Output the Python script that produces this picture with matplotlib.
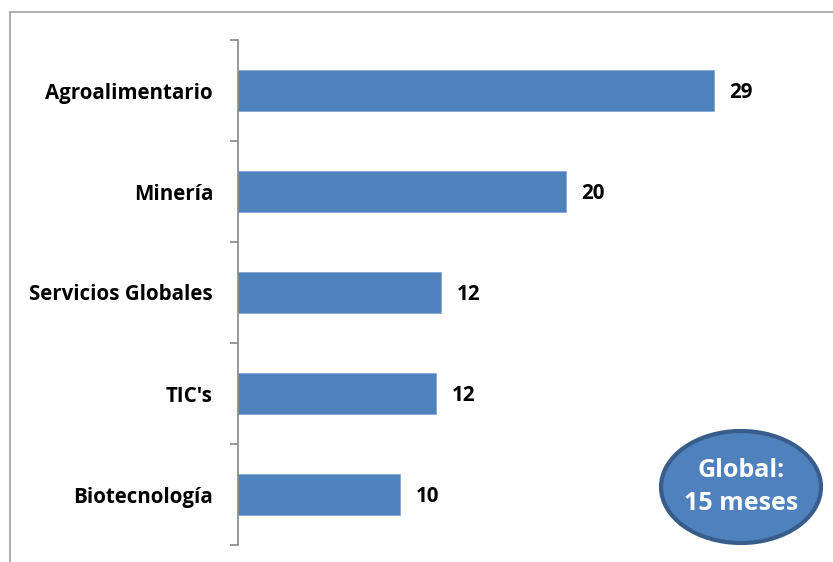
import matplotlib.pyplot as plt
from matplotlib.patches import Ellipse
from matplotlib.lines import Line2D

# Datos (meses por sector)
categorias = ["Agroalimentario", "Minería", "Servicios Globales", "TIC's", "Biotecnología"]
valores = [29.0, 20.0, 12.4, 12.1, 9.9]
etiquetas = ["29", "20", "12", "12", "10"]
texto_global = "Global:\n15 meses"

plt.rcParams['font.family'] = ['Open Sans', 'DejaVu Sans']

fig = plt.figure(figsize=(8.33, 5.62), dpi=100)
ax = fig.add_axes([238 / 833, 1 - 545 / 562, 574 / 833, 505 / 562])

pos = list(range(len(categorias)))
ax.barh(pos, valores, height=0.4, color='#4F81BD', edgecolor='#7FA3D0', linewidth=0.5)
ax.set_ylim(len(categorias) - 0.5, -0.5)
ax.set_xlim(0, 35)

for p, v, t in zip(pos, valores, etiquetas):
    ax.text(v + 0.95, p + 0.02, t, va='center', ha='left', fontsize=14.8, fontweight='bold')

# Eje vertical con marcas entre categorías
ax.set_yticks(pos)
ax.set_yticklabels(categorias, fontsize=14.8, fontweight='bold')
ax.tick_params(axis='y', which='major', length=0, pad=18)
ax.set_yticks([p - 0.5 for p in pos] + [len(pos) - 0.5], minor=True)
ax.tick_params(axis='y', which='minor', length=6, width=1.2, color='#868686')
ax.set_xticks([])
for s in ['top', 'right', 'bottom']:
    ax.spines[s].set_visible(False)
ax.spines['left'].set_color('#868686')
ax.spines['left'].set_linewidth(1.2)

# Marco del gráfico
fig.add_artist(Line2D([10 / 833, 10 / 833], [0, 1 - 12 / 562], color='#A0A0A0', lw=1.2,
                      transform=fig.transFigure))
fig.add_artist(Line2D([10 / 833, 1], [1 - 12 / 562, 1 - 12 / 562], color='#A0A0A0', lw=1.2,
                      transform=fig.transFigure))

# Óvalo con el promedio global
cx, cy = 741 / 833, 1 - 487 / 562
fig.add_artist(Ellipse((cx, cy), 160 / 833, 112 / 562, transform=fig.transFigure,
                       facecolor='#4F81BD', edgecolor='#385D8A', linewidth=3))
fig.text(cx, cy, texto_global, ha='center', va='center', color='white',
         fontsize=18, fontweight='bold', linespacing=1.4)

plt.savefig('out.png', dpi=100)
